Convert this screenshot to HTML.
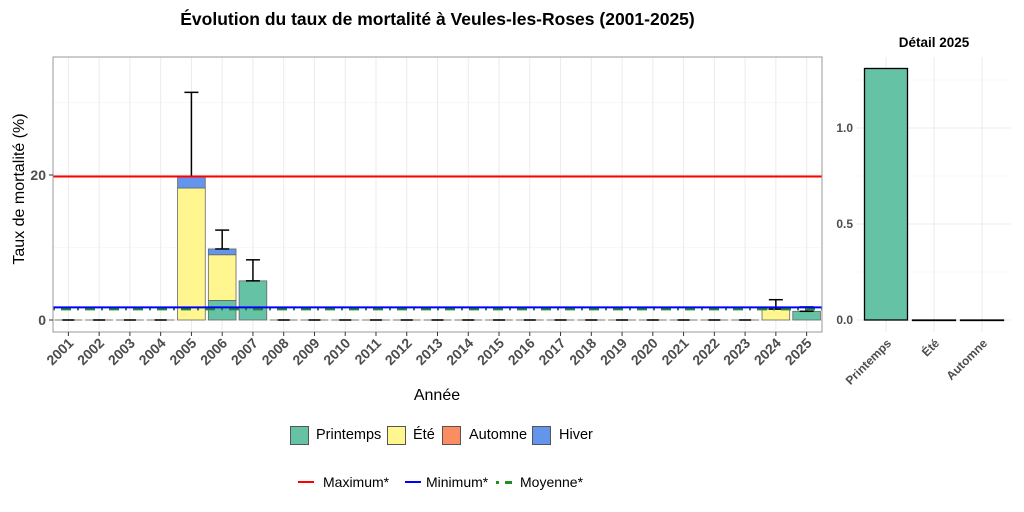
<!DOCTYPE html>
<html><head><meta charset="utf-8"><style>
body{margin:0;background:#fff;}
svg{display:block;font-family:"Liberation Sans",Arial,sans-serif;}
</style></head><body>
<svg id="c" width="1024" height="512" viewBox="0 0 1024 512"></svg>
<script>
const years=["2001","2002","2003","2004","2005","2006","2007","2008","2009","2010","2011","2012","2013","2014","2015","2016","2017","2018","2019","2020","2021","2022","2023","2024","2025"];
const printemps=[0,0,0,0,0,2.7,5.4,0,0,0,0,0,0,0,0,0,0,0,0,0,0,0,0,0,1.2];
const ete=[0,0,0,0,18.2,6.3,0,0,0,0,0,0,0,0,0,0,0,0,0,0,0,0,0,1.5,0];
const automne=[0,0,0,0,0,0,0,0,0,0,0,0,0,0,0,0,0,0,0,0,0,0,0,0,0];
const hiver=[0,0,0,0,1.6,0.8,0,0,0,0,0,0,0,0,0,0,0,0,0,0,0,0,0,0,0];
const errTop=[0,0,0,0,31.4,12.4,8.3,0,0,0,0,0,0,0,0,0,0,0,0,0,0,0,0,2.8,1.8];
const maxLine=19.8, minLine=1.75, meanLine=1.5;
const yTicks=[0,20];
const detailCats=["Printemps","Été","Automne"];
const detailVals=[1.31,0,0];
const detailTicks=["0.0","0.5","1.0"];

const NS="http://www.w3.org/2000/svg";
const svg=document.getElementById('c');
function el(t,a,p){const e=document.createElementNS(NS,t);for(const k in a)e.setAttribute(k,a[k]);(p||svg).appendChild(e);return e;}
const colors=["#66c2a5","#fff68f","#fc8d62","#6495ed"];
const L=53,R=822,T=57,B=332;
const band=(R-L)/years.length;
const xc=i=>L+band*(i+0.5);
const y=v=>320-v*7.25;
const g=el('g',{});

for(let v=-10;v<=35;v+=10){const yy=y(v);if(yy>T&&yy<B){el('line',{x1:L,x2:R,y1:yy,y2:yy,stroke:'#f2f2f2','stroke-width':0.6},g);}}
yTicks.forEach(v=>{el('line',{x1:L,x2:R,y1:y(v),y2:y(v),stroke:'#ebebeb','stroke-width':1},g);});
years.forEach((yr,i)=>{el('line',{x1:xc(i),x2:xc(i),y1:T,y2:B,stroke:'#ebebeb','stroke-width':1},g);});
const bw=band*0.9;
const series=[printemps,ete,automne,hiver];
years.forEach((yr,i)=>{
  let base=0;let total=series.reduce((s,a)=>s+a[i],0);
  if(total===0){
    const z=el('g',{},g);
    
    
    el('line',{x1:xc(i)-bw/2,x2:xc(i)+bw/2,y1:y(0),y2:y(0),stroke:'#777','stroke-width':1},z);
    el('line',{x1:xc(i)-6,x2:xc(i)+6,y1:y(0),y2:y(0),stroke:'#222','stroke-width':1.8},z);
  }
  series.forEach((s,k)=>{if(s[i]>0){
    const r=el('rect',{x:xc(i)-bw/2,y:y(base+s[i]),width:bw,height:y(base)-y(base+s[i]),fill:colors[k],stroke:'#666','stroke-width':0.8},g);
    
    
    base+=s[i];}});
  if(errTop[i]>0){
    const eg=el('g',{stroke:'#000','stroke-width':1.5},g);
    
    
    el('line',{x1:xc(i),x2:xc(i),y1:y(total),y2:y(errTop[i])},eg);
    el('line',{x1:xc(i)-7,x2:xc(i)+7,y1:y(errTop[i]),y2:y(errTop[i])},eg);
    el('line',{x1:xc(i)-7,x2:xc(i)+7,y1:y(total),y2:y(total)},eg);
  }
});
const ml=el('line',{x1:L,x2:R,y1:y(maxLine),y2:y(maxLine),stroke:'#ff0000','stroke-width':2},g);

const mean=el('line',{x1:L,x2:R,y1:y(meanLine),y2:y(meanLine),stroke:'#228b22','stroke-width':2.5,'stroke-dasharray':'2 6 10 6'},g);

const mn=el('line',{x1:L,x2:R,y1:y(minLine),y2:y(minLine),stroke:'#0000ff','stroke-width':2},g);

el('rect',{x:L,y:T,width:R-L,height:B-T,fill:'none',stroke:'#999','stroke-width':1},g);
yTicks.forEach(v=>{
  el('line',{x1:L-4,x2:L,y1:y(v),y2:y(v),stroke:'#333'},g);
  const t=el('text',{x:L-7,y:y(v)+5,'text-anchor':'end','font-size':14,'font-weight':'bold',fill:'#4d4d4d'},g);t.textContent=v;
  
});
years.forEach((yr,i)=>{
  el('line',{x1:xc(i),x2:xc(i),y1:B,y2:B+4,stroke:'#333'},g);
  const t=el('text',{transform:`translate(${xc(i)+6},${B+12}) rotate(-45)`,'text-anchor':'end','font-size':14,'font-weight':'bold',fill:'#4d4d4d'},g);t.textContent=yr;
  
});
const L2=857,R2=1011;
const band2=48;const xc2=i=>886+band2*i;
const y2=v=>320-v*192;
const g2=el('g',{});

[0.25,0.75,1.25].forEach(v=>el('line',{x1:L2,x2:R2,y1:y2(v),y2:y2(v),stroke:'#f2f2f2','stroke-width':0.6},g2));
detailTicks.forEach(s=>el('line',{x1:L2,x2:R2,y1:y2(+s),y2:y2(+s),stroke:'#ebebeb'},g2));
detailCats.forEach((c,i)=>el('line',{x1:xc2(i),x2:xc2(i),y1:T,y2:B,stroke:'#ebebeb'},g2));
detailCats.forEach((c,i)=>{
  const h=y2(0)-y2(detailVals[i]);
  const r=el('rect',{x:xc2(i)-21.5,y:y2(detailVals[i]),width:43,height:Math.max(h,0.5),fill:colors[i],stroke:'#000','stroke-width':1.3},g2);
  
  
  const t=el('text',{transform:`translate(${xc2(i)+6},${B+12}) rotate(-45)`,'text-anchor':'end','font-size':12,'font-weight':'bold',fill:'#4d4d4d'},g2);t.textContent=c;
  
});
detailTicks.forEach(s=>{const t=el('text',{x:L2-4,y:y2(+s)+4,'text-anchor':'end','font-size':12,'font-weight':'bold',fill:'#4d4d4d'},g2);t.textContent=s;
  });
</script>
<div style="position:absolute;left:0;top:0;width:1024px;height:512px;pointer-events:none;font-family:'Liberation Sans',Arial,sans-serif;">
<div style="position:absolute;left:0;width:875px;top:9px;text-align:center;font-size:17.5px;font-weight:bold;color:#000;">Évolution du taux de mortalité à Veules-les-Roses (2001-2025)</div>
<div style="position:absolute;left:857px;width:154px;top:35px;text-align:center;font-size:13.5px;font-weight:bold;">Détail 2025</div>
<div style="position:absolute;left:387px;width:100px;top:387px;text-align:center;font-size:16px;">Année</div>
<div style="position:absolute;left:-60px;top:180px;width:160px;text-align:center;font-size:16px;transform:rotate(-90deg);">Taux de mortalité (%)</div>
<div style="position:absolute;left:0;top:0;font-size:14.5px;">
 <div><div style="position:absolute;left:290px;top:426px;width:19px;height:19px;background:#66c2a5;border:1px solid #555;box-sizing:border-box;"></div><span style="position:absolute;left:316px;top:427px;">Printemps</span></div>
 <div><div style="position:absolute;left:387px;top:426px;width:19px;height:19px;background:#fff68f;border:1px solid #555;box-sizing:border-box;"></div><span style="position:absolute;left:413px;top:427px;">Été</span></div>
 <div><div style="position:absolute;left:442px;top:426px;width:19px;height:19px;background:#fc8d62;border:1px solid #555;box-sizing:border-box;"></div><span style="position:absolute;left:469px;top:427px;">Automne</span></div>
 <div><div style="position:absolute;left:532px;top:426px;width:19px;height:19px;background:#6495ed;border:1px solid #555;box-sizing:border-box;"></div><span style="position:absolute;left:559px;top:427px;">Hiver</span></div>
</div>
<div style="position:absolute;left:0;top:0;font-size:14px;">
 <div><div style="position:absolute;left:298px;top:481px;width:16px;height:2px;background:#ff0000;"></div><span style="position:absolute;left:323px;top:474px;">Maximum*</span></div>
 <div><div style="position:absolute;left:405px;top:481px;width:16px;height:2px;background:#0000ff;"></div><span style="position:absolute;left:426px;top:474px;">Minimum*</span></div>
 <div><div style="position:absolute;left:496px;top:481px;width:3px;height:2.5px;background:#228b22;"></div><div style="position:absolute;left:505px;top:481px;width:7px;height:2.5px;background:#228b22;"></div><span style="position:absolute;left:520px;top:474px;">Moyenne*</span></div>
</div>
</div>
</body></html>
